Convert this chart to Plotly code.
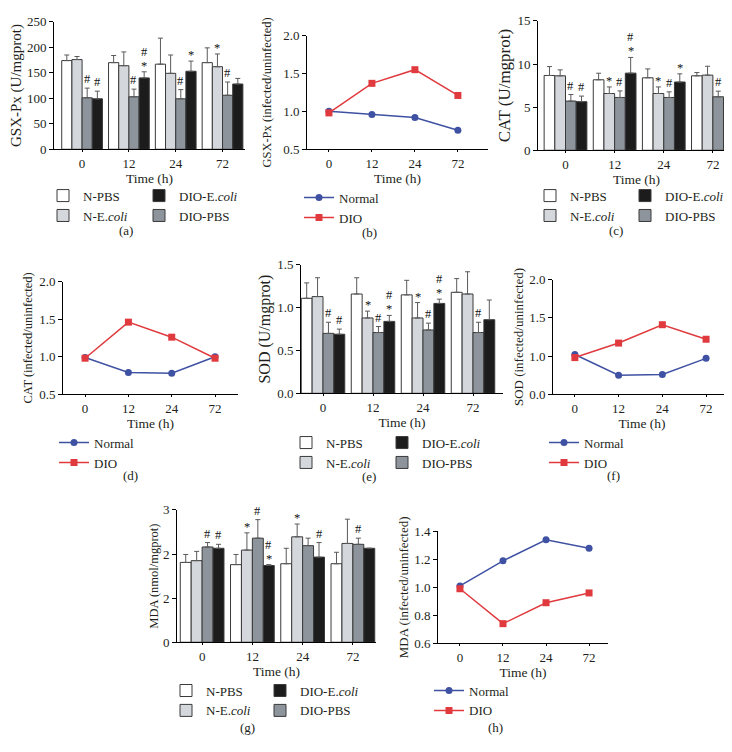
import plotly.graph_objects as go

W, H = 732, 752
FONT = "Liberation Serif"
TXT = "#231f20"

times = ["0", "12", "24", "72"]
xpos = [0, 1, 2, 3]

group_names = ["N-PBS", "N-E.<i>coli</i>", "DIO-PBS", "DIO-E.<i>coli</i>"]
group_colors = ["#ffffff", "#d4d7dc", "#8d949b", "#1c1c1c"]

# ---- GSX-Px (U/mgprot) ----
gsx_npbs = [174, 170, 167, 170]
gsx_npbs_err = [11, 14, 51, 29]
gsx_neco = [176, 164, 149, 162]
gsx_neco_err = [6, 27, 36, 25]
gsx_diopbs = [101, 103, 99, 106]
gsx_diopbs_err = [19, 15, 18, 26]
gsx_dioeco = [99, 140, 153, 128]
gsx_dioeco_err = [15, 12, 20, 11]
gsx_sig = [["", "", "", ""], ["", "", "", "*"], ["#", "#", "#", "#"], ["#", "#|*", "*", ""]]

# ---- CAT (U/mgprot) ----
cat_npbs = [8.67, 8.17, 8.40, 8.63]
cat_npbs_err = [1.03, 0.76, 1.03, 0.38]
cat_neco = [8.63, 6.58, 6.58, 8.71]
cat_neco_err = [0.69, 0.76, 0.76, 1.03]
cat_diopbs = [5.70, 6.12, 6.12, 6.20]
cat_diopbs_err = [0.76, 0.76, 0.65, 0.65]
cat_dioeco = [5.63, 8.94, 7.91, 5.97]
cat_dioeco_err = [0.65, 1.82, 0.95, 0.76]
cat_sig = [["", "", "", ""], ["", "*", "*", ""], ["#", "#", "#", "#"], ["#", "#|*", "*", "#"]]

# ---- SOD (U/mgprot) ----
sod_npbs = [1.11, 1.16, 1.15, 1.18]
sod_npbs_err = [0.18, 0.19, 0.17, 0.16]
sod_neco = [1.13, 0.88, 0.88, 1.16]
sod_neco_err = [0.22, 0.08, 0.18, 0.26]
sod_diopbs = [0.70, 0.71, 0.74, 0.71]
sod_diopbs_err = [0.13, 0.07, 0.08, 0.12]
sod_dioeco = [0.69, 0.84, 1.05, 0.86]
sod_dioeco_err = [0.06, 0.07, 0.05, 0.23]
sod_sig = [["", "", "", ""], ["", "*", "*", ""], ["#", "#", "#", "#"], ["#", "#|*", "#|*", ""]]

# ---- MDA (nmol/mgprot) ----
mda_npbs = [1.81, 1.76, 1.78, 1.78]
mda_npbs_err = [0.18, 0.23, 0.35, 0.26]
mda_neco = [1.85, 2.09, 2.39, 2.24]
mda_neco_err = [0.21, 0.39, 0.29, 0.55]
mda_diopbs = [2.16, 2.36, 2.19, 2.22]
mda_diopbs_err = [0.10, 0.42, 0.17, 0.14]
mda_dioeco = [2.13, 1.74, 1.93, 2.13]
mda_dioeco_err = [0.09, 0.02, 0.33, 0.0]
mda_sig = [["", "", "", ""], ["", "*", "*", ""], ["#", "#", "", "#"], ["#", "#|*", "#", ""]]

# ---- ratios (infected/uninfected) ----
gsx_ratio_normal = [1.00, 0.96, 0.92, 0.75]
gsx_ratio_dio = [0.98, 1.37, 1.55, 1.21]
cat_ratio_normal = [0.99, 0.79, 0.78, 1.00]
cat_ratio_dio = [0.98, 1.46, 1.26, 0.98]
sod_ratio_normal = [1.02, 0.75, 0.76, 0.97]
sod_ratio_dio = [0.98, 1.17, 1.41, 1.22]
mda_ratio_normal = [1.01, 1.19, 1.34, 1.28]
mda_ratio_dio = [0.99, 0.74, 0.89, 0.96]

BARGAP = 0.13

fig = go.Figure()
layout = dict(
    width=W, height=H, margin=dict(l=0, r=0, t=0, b=0),
    paper_bgcolor="white", plot_bgcolor="white",
    barmode="group", bargap=BARGAP, bargroupgap=0,
    font=dict(family=FONT, size=13, color=TXT),
    showlegend=True,
)
annotations = []


def px_dom_x(a, b):
    return [a / W, b / W]


def px_dom_y(top, bottom):
    return [1 - bottom / H, 1 - top / H]


def axes(n, xd, yd, xr, yr, ytitle, yticks, yticktext, tsize, tstand):
    sx = "" if n == 1 else str(n)
    layout["xaxis" + sx] = dict(
        domain=px_dom_x(*xd), range=xr, tickvals=xpos, ticktext=times,
        showline=True, linecolor="black", linewidth=1, ticks="outside",
        ticklen=2, tickcolor="black", showgrid=False, zeroline=False,
        anchor="y" + sx, tickfont=dict(size=13),
        title=dict(text="Time (h)", font=dict(size=13.5), standoff=2),
    )
    layout["yaxis" + sx] = dict(
        domain=px_dom_y(*yd), range=yr, tickvals=yticks, ticktext=yticktext,
        showline=True, linecolor="black", linewidth=1, ticks="outside",
        ticklen=4, tickcolor="black", showgrid=False, zeroline=False,
        anchor="x" + sx, tickfont=dict(size=13),
        title=dict(text=ytitle, font=dict(size=tsize), standoff=tstand),
    )


def legend_cfg(xp, top):
    return dict(x=xp / W, y=1 - top / H, xanchor="left", yanchor="top",
                bgcolor="rgba(0,0,0,0)", font=dict(size=13, family=FONT),
                itemwidth=30, tracegroupgap=0, orientation="v")


legend_counter = [0]


def next_legend():
    legend_counter[0] += 1
    return "legend" if legend_counter[0] == 1 else "legend" + str(legend_counter[0])


def bar_panel(n, values, errs, sigs, leg_x1, leg_x2, leg_top):
    sx = "" if n == 1 else str(n)
    l1 = next_legend()
    l2 = next_legend()
    layout[l1] = legend_cfg(leg_x1, leg_top)
    layout[l2] = legend_cfg(leg_x2, leg_top)
    ranks = [1, 2, 2, 1]
    legs = [l1, l1, l2, l2]
    gw = 1 - BARGAP
    for j in range(4):
        fig.add_trace(go.Bar(
            x=xpos, y=values[j], name=group_names[j],
            marker=dict(color=group_colors[j], line=dict(color="#3a3a3a", width=1)),
            error_y=dict(type="data", symmetric=False, array=errs[j],
                         arrayminus=[0] * 4, color="#5a5a5a", thickness=1, width=2.5),
            xaxis="x" + sx, yaxis="y" + sx, legend=legs[j], legendrank=ranks[j],
            hoverinfo="x+y",
        ))
        off = -gw / 2 + (j + 0.5) * gw / 4
        for i in range(4):
            s = sigs[j][i]
            if not s:
                continue
            parts = s.split("|")[::-1]
            for k, p in enumerate(parts):
                shift = (-3 if p == "*" else 0) + 11 * k
                annotations.append(dict(
                    x=xpos[i] + off, y=values[j][i] + errs[j][i], xref="x" + sx, yref="y" + sx,
                    text=p, showarrow=False, yanchor="bottom", yshift=shift,
                    font=dict(size=12.5, family=FONT, color="#111111"),
                ))


def line_panel(n, normal, dio, leg_x, leg_top):
    sx = "" if n == 1 else str(n)
    lg = next_legend()
    layout[lg] = legend_cfg(leg_x, leg_top)
    fig.add_trace(go.Scatter(
        x=xpos, y=normal, name="Normal", mode="lines+markers",
        line=dict(color="#3f51a3", width=1.5),
        marker=dict(symbol="circle", size=7, color="#3f51a3"),
        xaxis="x" + sx, yaxis="y" + sx, legend=lg, cliponaxis=False,
    ))
    fig.add_trace(go.Scatter(
        x=xpos, y=dio, name="DIO", mode="lines+markers",
        line=dict(color="#e03a3e", width=1.5),
        marker=dict(symbol="square", size=7, color="#e03a3e"),
        xaxis="x" + sx, yaxis="y" + sx, legend=lg, cliponaxis=False,
    ))


ratio_ticks = [0.5, 1.0, 1.5, 2.0]

# (a)
axes(1, (46, 237), (7, 137), [-0.6, 3.48], [0, 250], "GSX-Px (U/mgprot)",
     [0, 50, 100, 150, 200, 250], ["0", "50", "100", "150", "200", "250"], 15, 1)
bar_panel(1, [gsx_npbs, gsx_neco, gsx_diopbs, gsx_dioeco],
          [gsx_npbs_err, gsx_neco_err, gsx_diopbs_err, gsx_dioeco_err], gsx_sig, 35, 131, 169)
# (b)
axes(2, (299, 480), (21, 137), [-0.51, 3.7], [0.5, 2.0], "GSX-Px (infected/uninfected)",
     ratio_ticks, ["0.5", "1.0", "1.5", "2.0"], 12.5, 8)
line_panel(2, gsx_ratio_normal, gsx_ratio_dio, 291, 171)
# (c)
axes(3, (530, 727), (6, 138), [-0.56, 3.45], [0, 15], "CAT (U/mgprot)",
     [0, 5, 10, 15], ["0", "5", "10", "15"], 17, 2)
bar_panel(3, [cat_npbs, cat_neco, cat_diopbs, cat_dioeco],
          [cat_npbs_err, cat_neco_err, cat_diopbs_err, cat_dioeco_err], cat_sig, 522, 617, 169)
# (d)
axes(4, (55, 230), (272, 387), [-0.51, 3.53], [0.5, 2.0], "CAT (infected/uninfected)",
     ratio_ticks, ["0.5", "1.0", "1.5", "2.0"], 12.5, 3)
line_panel(4, cat_ratio_normal, cat_ratio_dio, 46, 421)
# (e)
axes(5, (293, 495), (255, 386), [-0.44, 3.6], [0, 1.5], "SOD (U/mgprot)",
     [0, 0.5, 1.0, 1.5], ["0.0", "0.5", "1.0", "1.5"], 16, 2)
bar_panel(5, [sod_npbs, sod_neco, sod_diopbs, sod_dioeco],
          [sod_npbs_err, sod_neco_err, sod_diopbs_err, sod_dioeco_err], sod_sig, 278, 374, 421)
# (f)
axes(6, (545, 723), (270, 387), [-0.5, 3.57], [0.5, 2.0], "SOD (infected/uninfected)",
     ratio_ticks, ["0.0", "1.0", "1.5", "2.0"], 13, 2)
line_panel(6, sod_ratio_normal, sod_ratio_dio, 536, 421)
# (g)
axes(7, (169, 368), (505, 640), [-0.5, 3.46], [0, 3], "MDA (nmol/mgprot)",
     [0, 1, 2, 3], ["0", "2", "2", "3"], 12.5, 1)
bar_panel(7, [mda_npbs, mda_neco, mda_diopbs, mda_dioeco],
          [mda_npbs_err, mda_neco_err, mda_diopbs_err, mda_dioeco_err], mda_sig, 158, 252, 674)
# (h)
axes(8, (430, 600), (527, 641), [-0.51, 3.44], [0.6, 1.4], "MDA (infected/uninfected)",
     [0.6, 0.8, 1.0, 1.2, 1.4], ["0.6", "0.8", "1.0", "1.2", "1.4"], 13, 2)
line_panel(8, mda_ratio_normal, mda_ratio_dio, 421, 674)

# panel letters
for lab, xc, yc in [("(a)", 118, 220), ("(b)", 361, 222), ("(c)", 608, 220),
                    ("(d)", 122, 470), ("(e)", 361, 471), ("(f)", 605, 470),
                    ("(g)", 240, 727), ("(h)", 487, 727)]:
    annotations.append(dict(x=xc / W, y=1 - yc / H, xref="paper", yref="paper",
                            text=lab, showarrow=False, xanchor="center", yanchor="middle",
                            font=dict(size=13, family=FONT, color=TXT)))

layout["annotations"] = annotations
fig.update_layout(**layout)
fig.write_html("out.html")
